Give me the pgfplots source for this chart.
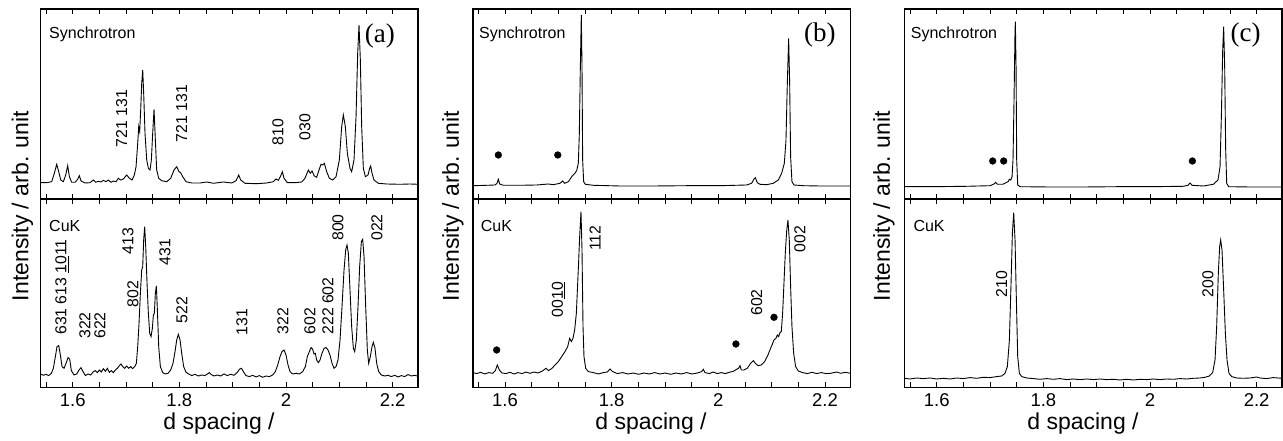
\documentclass[border=0pt]{standalone}
\usepackage{fontspec}
\setmainfont{Liberation Sans}
\newfontfamily\serifA{Liberation Serif}
\usepackage{pgfplots}
\pgfplotsset{compat=1.18}
\pgfplotsset{
  spec/.style={
    scale only axis, width=377.3pt, xmin=1.54, xmax=2.2475,
    clip=false,
    axis line style={line width=1.1pt, black},
    xtick={1.6,1.8,2,2.2},
    minor xtick={1.55,1.65,1.7,1.75,1.85,1.9,1.95,2.05,2.1,2.15},
    xtick pos=both, tick align=inside,
    major tick length=5pt, minor tick length=5pt,
    every tick/.style={line width=0.8pt, black},
    ytick=\empty,
    /pgf/number format/assume math mode=true,
    xticklabel style={font=\fontsize{18.5}{20}\selectfont, yshift=-3pt},
  },
  topax/.style={spec, anchor=south west, height=190pt, ymin=0, ymax=190, xticklabels={}},
  botax/.style={spec, anchor=south west, height=188.3pt, ymin=0, ymax=188.3},
  trace/.style={line width=0.9pt, black, no marks},
  dots/.style={only marks, mark=*, mark size=3.4pt, black},
}
\tikzset{
  pk/.style={rotate=90, inner sep=0pt, font=\fontsize{15.8}{17}\selectfont},
  nm/.style={anchor=base west, inner sep=0pt, font=\fontsize{16}{18}\selectfont},
  pl/.style={inner sep=0pt, font=\fontsize{27}{30}\serifA},
}
\begin{document}
\begin{tikzpicture}
\path[use as bounding box] (0,0) rectangle (1283pt,441pt);
% ================= (a) =================
\begin{axis}[topax, at={(40.7pt,242pt)}]
\addplot[trace] coordinates {
(1.54,16.3)(1.5513,16.3)(1.5606,17.3)(1.5656,25.7)(1.57,34.7)(1.5738,27.3)(1.5775,19)(1.5825,17.3)(1.5869,24)(1.5906,33.3)(1.5938,22.3)(1.5981,16.7)(1.6044,16.7)(1.6094,19.7)(1.6125,23.3)(1.6156,18)(1.6231,16)(1.6325,16.3)(1.6388,19)(1.6431,16.7)(1.6481,17.7)(1.6531,17)(1.6575,18.7)(1.6625,17.3)(1.6669,19)(1.6719,16.7)(1.6763,18)(1.6813,17.3)(1.6856,20.7)(1.69,19)(1.695,20)(1.7013,24)(1.7063,20.7)(1.7113,19)(1.7156,24)(1.7188,32.3)(1.7219,55.7)(1.7238,72.3)(1.7256,67.3)(1.7275,89)(1.7294,115.7)(1.7313,129)(1.7331,105.7)(1.7356,65.7)(1.7388,39)(1.7419,30.7)(1.745,29)(1.7475,39)(1.75,65.7)(1.7525,89.7)(1.755,59)(1.7575,29)(1.7613,20.7)(1.7669,18.3)(1.7763,17.3)(1.7838,20.7)(1.79,29)(1.795,32.3)(1.7994,27.3)(1.8025,26.3)(1.8063,22.3)(1.8125,17.3)(1.8231,16)(1.8388,16)(1.8513,17)(1.8638,15.7)(1.8825,17)(1.8981,16)(1.9063,18.3)(1.9113,24)(1.915,19)(1.9231,15.7)(1.945,15.3)(1.9638,16)(1.9763,17.3)(1.9813,20)(1.9856,18.7)(1.99,23)(1.9931,27.3)(1.9963,20.7)(2.0025,16.3)(2.0169,16.3)(2.0294,17)(2.0356,20.7)(2.0419,29)(2.0456,25.7)(2.0488,28)(2.0531,23)(2.0575,21.7)(2.0619,29)(2.0656,34.7)(2.0688,34)(2.0719,35.7)(2.0763,27.3)(2.0813,20.7)(2.0875,19)(2.0938,22.3)(2.1,39)(2.1044,72.3)(2.1075,84)(2.1113,72.3)(2.115,45.7)(2.12,30.7)(2.1231,27.3)(2.1275,39)(2.1313,82.3)(2.1344,145.7)(2.1369,174)(2.1394,139)(2.1419,72.3)(2.145,30.7)(2.1488,22.3)(2.1538,24)(2.1569,30.7)(2.1588,33)(2.1613,25.7)(2.165,19)(2.1731,15.7)(2.1888,15)(2.2138,14.7)(2.2325,15)(2.2475,14.7)
};
\node[nm] at (axis cs:1.5556,160.7) {Synchrotron};
\node[pl] at (axis cs:2.1762,163.3) {(a)};
\node[pk] at (axis cs:1.6919,80.5) {721 131};
\node[pk] at (axis cs:1.8044,85.5) {721 131};
\node[pk] at (axis cs:1.985,67) {810};
\node[pk] at (axis cs:2.0356,72) {030};
\end{axis}
\begin{axis}[botax, at={(40.7pt,53.7pt)}]
\addplot[trace] coordinates {
(1.54,13.3)(1.545,12)(1.55,13)(1.555,11.7)(1.56,14)(1.5638,19)(1.5675,30.7)(1.5706,40.7)(1.5738,41.7)(1.5769,32.3)(1.58,20.7)(1.5838,19)(1.5875,24)(1.5913,29.7)(1.5944,28)(1.5975,16.7)(1.6025,12.3)(1.6075,13.3)(1.6119,17.3)(1.6156,19.7)(1.6194,15.7)(1.6238,11.7)(1.6288,13.3)(1.6338,12.3)(1.6388,15.7)(1.6425,16.7)(1.6463,14.7)(1.65,17.3)(1.6538,15.3)(1.6575,18.7)(1.6613,16)(1.665,19)(1.6688,15)(1.6725,16.7)(1.6763,14.7)(1.68,17.3)(1.6838,19)(1.6875,21.7)(1.6906,23.3)(1.6938,20.7)(1.6975,19)(1.7013,21.3)(1.705,19)(1.7088,20.7)(1.7125,18.7)(1.7163,20.7)(1.7194,24)(1.7219,40.7)(1.7244,64)(1.7269,94)(1.7294,117.3)(1.7313,120.7)(1.7331,147.3)(1.735,160.7)(1.7369,140.7)(1.7394,104)(1.7419,74)(1.7444,54)(1.7469,50.7)(1.7494,59)(1.7513,72.3)(1.7531,74)(1.755,94)(1.7569,101.3)(1.7588,77.3)(1.7613,40.7)(1.7644,20.7)(1.7688,14.7)(1.7738,13.3)(1.7788,14)(1.7838,17.3)(1.7881,24)(1.7919,35.7)(1.795,47.3)(1.7981,53)(1.8013,47.3)(1.8044,34)(1.8081,20.7)(1.8125,15)(1.8175,13.3)(1.8231,11.7)(1.8294,13)(1.8356,11.3)(1.8419,12.3)(1.8481,11.7)(1.8525,13.3)(1.8563,14.7)(1.86,12.7)(1.865,11.3)(1.8713,12.3)(1.8775,11.3)(1.8838,13.3)(1.89,11.7)(1.8963,13)(1.9025,12)(1.9088,15)(1.9125,18)(1.9163,19)(1.92,15.7)(1.925,11.7)(1.9313,10.7)(1.9375,12)(1.9438,10.3)(1.95,11.7)(1.9563,10)(1.9625,11.3)(1.9688,10.7)(1.975,12.3)(1.98,15.7)(1.9844,22.3)(1.9888,30.7)(1.9925,35.7)(1.9963,37.3)(2.0,32.3)(2.0038,22.3)(2.0075,15.7)(2.0125,13.3)(2.0188,14)(2.025,13.3)(2.0313,15.7)(2.0363,20.7)(2.04,30.7)(2.0438,35.7)(2.0469,39.7)(2.05,38)(2.0525,33.3)(2.055,34)(2.0575,27.3)(2.0606,24.7)(2.0638,27.3)(2.0675,34)(2.0713,39)(2.075,39.7)(2.0788,37.3)(2.0825,32.3)(2.0863,24)(2.09,19)(2.0938,20.7)(2.0975,27.3)(2.1013,47.3)(2.105,80.7)(2.1088,117.3)(2.1119,137.3)(2.1144,142.3)(2.1169,134)(2.12,97.3)(2.1231,60.7)(2.1263,39)(2.1288,35.7)(2.1319,47.3)(2.135,80.7)(2.1381,120.7)(2.1413,145.7)(2.1438,148)(2.1463,130.7)(2.1494,80.7)(2.1525,37.3)(2.155,24)(2.1581,30.7)(2.1613,40.7)(2.1638,45)(2.1669,39)(2.17,24)(2.1738,15.7)(2.1788,12.3)(2.185,11.3)(2.1913,12)(2.1975,10.7)(2.2038,12)(2.21,10.3)(2.2163,11.7)(2.2225,10.7)(2.2288,12.7)(2.235,11.3)(2.2413,12)(2.2475,11)
};
\node[nm] at (axis cs:1.5556,155.6) {CuK};
\node[pk] at (axis cs:1.58,100.3) {631 613 \underline{10}11};
\node[pk] at (axis cs:1.6231,61.7) {322};
\node[pk] at (axis cs:1.6513,61.7) {622};
\node[pk] at (axis cs:1.7037,146.3) {413};
\node[pk] at (axis cs:1.7131,93.3) {802};
\node[pk] at (axis cs:1.7731,135.3) {431};
\node[pk] at (axis cs:1.805,77.3) {522};
\node[pk] at (axis cs:1.9175,65.3) {131};
\node[pk] at (axis cs:1.9944,66.3) {322};
\node[pk] at (axis cs:2.045,66.3) {602};
\node[pk] at (axis cs:2.0788,81.3) {222 602};
\node[pk] at (axis cs:2.0975,159.8) {800};
\node[pk] at (axis cs:2.1706,159.8) {022};
\end{axis}
% ================= (b) =================
\begin{axis}[topax, at={(473pt,242pt)}]
\addplot[trace] coordinates {
(1.54,13.3)(1.5656,13.7)(1.5813,14)(1.585,15.7)(1.5875,19.7)(1.59,15)(1.5969,13.7)(1.6281,13.7)(1.6594,14)(1.6813,15)(1.6906,14.3)(1.7031,15.7)(1.7081,18)(1.7119,15.7)(1.7188,17.3)(1.725,22.3)(1.73,25)(1.7344,28.3)(1.7375,35.7)(1.7394,65.7)(1.7413,132.3)(1.7431,184)(1.7444,132.3)(1.7456,39)(1.7475,17.3)(1.7506,14.7)(1.7656,13.7)(1.8156,13)(1.8781,13)(1.9406,13.3)(2.0031,13.3)(2.0531,14)(2.0625,15.7)(2.0669,20)(2.0694,21.3)(2.0731,16.3)(2.0781,14.7)(2.0906,14.3)(2.1031,15.7)(2.1125,19)(2.1188,25.7)(2.1238,35.7)(2.1269,59)(2.1294,115.7)(2.1319,160.7)(2.1338,115.7)(2.1356,42.3)(2.1381,17.3)(2.1419,14)(2.1594,13.3)(2.1906,13)(2.2475,13)
};
\addplot[dots] coordinates {(1.5875,44)(1.699,44)};
\node[nm] at (axis cs:1.5512,160.7) {Synchrotron};
\node[pl] at (axis cs:2.1906,164) {(b)};
\end{axis}
\begin{axis}[botax, at={(473pt,53.7pt)}]
\addplot[trace] coordinates {
(1.54,14.7)(1.5469,13.7)(1.5544,15)(1.5619,13.3)(1.5694,14.7)(1.5769,14)(1.5819,16.7)(1.5856,22.3)(1.5894,17.3)(1.5944,14.3)(1.6019,13.7)(1.6094,15)(1.6169,13.3)(1.6244,14.7)(1.6319,13.7)(1.6394,15.3)(1.6469,14)(1.6544,15.3)(1.6619,14.3)(1.6694,16)(1.6769,19)(1.6813,16.7)(1.6875,18.7)(1.6938,22.3)(1.7,25.7)(1.7063,30.7)(1.7125,35.7)(1.7175,40.7)(1.7213,49)(1.7244,45.7)(1.7275,49)(1.7306,57.3)(1.7338,74)(1.7363,104)(1.7381,125.7)(1.74,150.7)(1.7425,175.7)(1.7444,137.3)(1.7463,60.7)(1.7481,30.7)(1.7513,19)(1.7563,15.7)(1.7656,14.7)(1.775,13.3)(1.7844,14.7)(1.7919,15.3)(1.7969,18.3)(1.8019,15.7)(1.8106,13.7)(1.8206,14.7)(1.8306,13.3)(1.8406,14.3)(1.8506,13)(1.8606,14.3)(1.8706,13.3)(1.8806,14.7)(1.8906,13.3)(1.9006,14.3)(1.9106,13)(1.9206,14.3)(1.9306,13.3)(1.9406,14.7)(1.9506,13.3)(1.9606,14.3)(1.9688,15.7)(1.9719,18)(1.975,14.7)(1.9831,13.7)(1.9906,15.3)(1.9981,13.7)(2.0056,14.7)(2.0131,13.7)(2.0206,15)(2.0281,16)(2.0344,18)(2.0381,19)(2.0406,21.7)(2.0431,17.3)(2.0481,17.3)(2.0544,19)(2.0606,24)(2.0656,26.7)(2.0694,24)(2.0744,21.7)(2.0806,22.3)(2.0869,25.7)(2.0931,32.3)(2.0994,40.7)(2.1044,47.3)(2.1081,49)(2.1106,52.3)(2.1131,50.7)(2.1156,54.7)(2.1181,55.7)(2.1206,74)(2.1231,104)(2.1256,134)(2.1281,155.7)(2.1306,167.3)(2.1331,147.3)(2.1356,100.7)(2.1381,60.7)(2.1413,34)(2.145,20.7)(2.15,16.3)(2.1581,14.7)(2.1669,13.7)(2.1756,15)(2.1844,13.7)(2.1931,14.7)(2.2019,13.7)(2.2106,14)(2.2219,15.3)(2.2294,14)(2.2381,15)(2.2475,14)
};
\addplot[dots] coordinates {(1.5844,37.3)(2.033,43.3)(2.1044,70)};
\node[nm] at (axis cs:1.5544,155.6) {CuK};
\node[pk] at (axis cs:1.7,87.8) {00\underline{10}};
\node[pk] at (axis cs:1.7688,149) {112};
\node[pk] at (axis cs:2.072,84.8) {602};
\node[pk] at (axis cs:2.1531,148.3) {002};
\end{axis}
% ================= (c) =================
\begin{axis}[topax, at={(904.7pt,242pt)}]
\addplot[trace] coordinates {
(1.54,12.3)(1.5938,12.3)(1.6563,12.7)(1.7,13.3)(1.7075,15)(1.7106,16.7)(1.7138,14.7)(1.7238,14.7)(1.73,16.3)(1.7338,17.3)(1.7363,19.7)(1.7388,19)(1.7413,22.3)(1.7431,39)(1.745,99)(1.7469,169)(1.7475,177.3)(1.7488,132.3)(1.75,39)(1.7519,14)(1.7563,12.3)(1.8125,12)(1.875,12)(1.9375,12.3)(2.0,12.3)(2.0625,12.7)(2.0713,13.7)(2.075,16)(2.0788,13.7)(2.1,13)(2.1188,14.7)(2.1275,19)(2.1313,32.3)(2.1338,82.3)(2.1363,149)(2.1381,172.3)(2.14,132.3)(2.1419,49)(2.1438,15.7)(2.1475,12.3)(2.1875,12)(2.2475,12)
};
\addplot[dots] coordinates {(1.705,38)(1.7256,38)(2.0794,38)};
\node[nm] at (axis cs:1.5512,160.7) {Synchrotron};
\node[pl] at (axis cs:2.1794,164) {(c)};
\end{axis}
\begin{axis}[botax, at={(904.7pt,53.7pt)}]
\addplot[trace] coordinates {
(1.54,9)(1.55,8.3)(1.5625,9.3)(1.575,8.7)(1.5875,9.3)(1.6,8.3)(1.6125,9)(1.625,8.3)(1.6375,9.3)(1.65,8.7)(1.6625,9.7)(1.675,9)(1.6875,10)(1.7,9.7)(1.7125,10.7)(1.7219,11.3)(1.7281,14)(1.7325,20.7)(1.7363,47.3)(1.7394,104)(1.7419,154)(1.7444,174.7)(1.7469,147.3)(1.7494,87.3)(1.7519,30.7)(1.755,14)(1.7594,10.7)(1.7688,9.3)(1.7813,8.7)(1.7938,8)(1.8063,8.7)(1.8188,8)(1.8313,8.7)(1.8438,7.7)(1.8563,8.3)(1.8688,7.7)(1.8813,8.3)(1.8938,7.7)(1.9063,8.3)(1.9188,7.7)(1.9313,8)(1.9438,7.3)(1.9563,8)(1.9688,7.3)(1.9813,8)(1.9938,7.7)(2.0063,8.3)(2.0188,7.7)(2.0313,8.3)(2.0438,8)(2.0563,8.7)(2.0688,8.3)(2.0813,9)(2.0938,9.3)(2.1031,10)(2.1113,11.3)(2.1175,14.7)(2.1219,27.3)(2.125,60.7)(2.1281,114)(2.1306,140.7)(2.1325,147.3)(2.135,137.3)(2.1381,97.3)(2.1413,54)(2.1444,27.3)(2.1481,14)(2.1531,10.7)(2.1625,9.3)(2.175,9)(2.1875,9.3)(2.2,10.3)(2.2063,9.3)(2.2188,8.7)(2.2313,9.7)(2.2475,9)
};
\node[nm] at (axis cs:1.5562,155.6) {CuK};
\node[pk] at (axis cs:1.7219,103.3) {210};
\node[pk] at (axis cs:2.1088,103.3) {200};
\end{axis}
% ================= axis labels =================
\foreach \xl/\xc in {22.5/219, 453/651, 884/1083}{
  \node[rotate=90, inner sep=0pt, font=\fontsize{23}{26}\selectfont] at (\xl pt,235pt) {Intensity / arb. unit};
  \node[inner sep=0pt, font=\fontsize{23}{26}\selectfont] at (\xc pt,17pt) {d spacing /};
}
\end{tikzpicture}
\end{document}
